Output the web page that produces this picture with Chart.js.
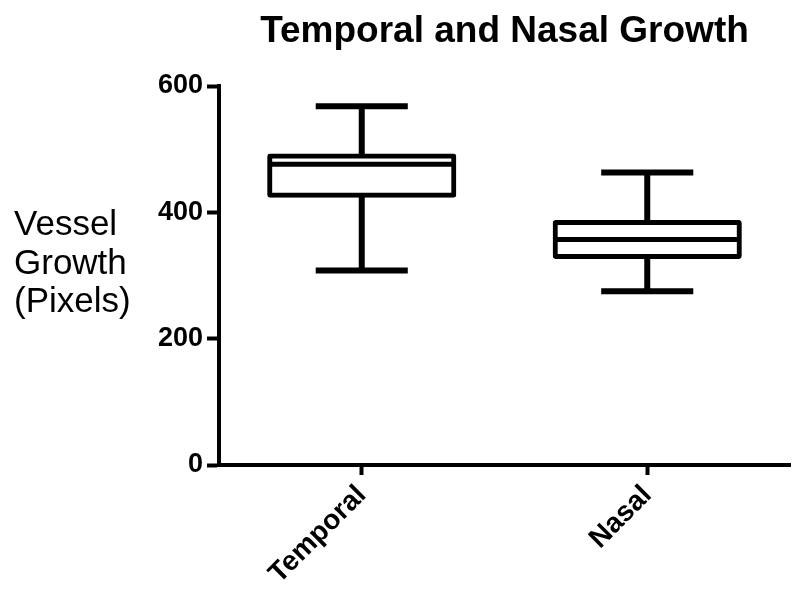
<!DOCTYPE html>
<html>
<head>
<meta charset="utf-8">
<script src="https://cdn.jsdelivr.net/npm/chart.js@4.4.0/dist/chart.umd.min.js"></script>
<style>
    html, body { margin: 0; padding: 0; background: #fff; }
    #wrap { width: 800px; height: 600px; position: relative; }
</style>
</head>
<body>
<div id="wrap"><canvas id="myChart"></canvas></div>
<script>
let groups = ["Temporal", "Nasal"];
let minValues = [308, 275];
let q1Values = [427, 330];
let medianValues = [476, 357];
let q3Values = [489, 384];
let maxValues = [568, 463];
let yTicks = [0, 200, 400, 600];

let chartTitle = "Temporal and Nasal Growth";
let yTitleLines = ["Vessel", "Growth", "(Pixels)"];

const FONT = "'Liberation Sans', Arial, Helvetica, sans-serif";

// whiskers, caps and median lines drawn on top of the floating bars
let boxExtras = {
    id: "boxExtras",
    afterDatasetsDraw(chart) {
        let ctx = chart.ctx;
        let y = chart.scales.y;
        let bars = chart.getDatasetMeta(0).data;
        ctx.save();
        ctx.strokeStyle = "#000";
        bars.forEach((bar, i) => {
            let x = bar.x;
            let half = bar.width / 2;
            let capHalf = half / 2;

            ctx.lineWidth = 6;
            ctx.beginPath();
            ctx.moveTo(x, y.getPixelForValue(q3Values[i]));
            ctx.lineTo(x, y.getPixelForValue(maxValues[i]));
            ctx.moveTo(x, y.getPixelForValue(q1Values[i]));
            ctx.lineTo(x, y.getPixelForValue(minValues[i]));
            ctx.moveTo(x - capHalf, y.getPixelForValue(maxValues[i]));
            ctx.lineTo(x + capHalf, y.getPixelForValue(maxValues[i]));
            ctx.moveTo(x - capHalf, y.getPixelForValue(minValues[i]));
            ctx.lineTo(x + capHalf, y.getPixelForValue(minValues[i]));
            ctx.stroke();

            ctx.lineWidth = 5;
            ctx.beginPath();
            ctx.moveTo(x - half, y.getPixelForValue(medianValues[i]));
            ctx.lineTo(x + half, y.getPixelForValue(medianValues[i]));
            ctx.stroke();
        });
        ctx.restore();
    },
    afterDraw(chart) {
        let ctx = chart.ctx;
        let area = chart.chartArea;
        ctx.save();
        ctx.fillStyle = "#000";
        ctx.textBaseline = "alphabetic";

        ctx.font = "bold 37px " + FONT;
        ctx.textAlign = "center";
        ctx.fillText(chartTitle, (area.left + area.right) / 2, 42);

        ctx.font = "35px " + FONT;
        ctx.textAlign = "left";
        yTitleLines.forEach((line, i) => {
            ctx.fillText(line, 14, 235 + i * 38.5);
        });
        ctx.restore();
    }
};

let config = {
    type: "bar",
    data: {
        labels: groups,
        datasets: [
            {
                label: "Vessel growth",
                data: groups.map((_, i) => [q1Values[i], q3Values[i]]),
                backgroundColor: "#fff",
                borderColor: "#000",
                borderWidth: 5,
                borderSkipped: false,
                borderRadius: 3,
                inflateAmount: 2.5,
                barPercentage: 0.645,
                categoryPercentage: 1
            }
        ]
    },
    options: {
        responsive: false,
        animation: false,
        layout: {
            padding: { top: 86, right: 10, left: 0, bottom: 0 }
        },
        plugins: {
            legend: { display: false },
            title: { display: false },
            tooltip: { enabled: false }
        },
        scales: {
            x: {
                grid: {
                    drawOnChartArea: false,
                    offset: false,
                    tickLength: 10,
                    tickWidth: 4,
                    tickColor: "#000"
                },
                border: { color: "#000", width: 4 },
                ticks: {
                    color: "#000",
                    font: { family: FONT, size: 28, weight: "bold" },
                    minRotation: 45,
                    maxRotation: 45,
                    padding: 4
                },
                afterFit(scale) {
                    scale.height = 135;
                }
            },
            y: {
                min: 0,
                max: 600,
                grid: {
                    drawOnChartArea: false,
                    tickLength: 12,
                    tickWidth: 4,
                    tickColor: "#000"
                },
                border: { color: "#000", width: 4 },
                afterBuildTicks(scale) {
                    scale.ticks = yTicks.map(v => ({ value: v }));
                },
                ticks: {
                    color: "#000",
                    font: { family: FONT, size: 27, weight: "bold" },
                    padding: 4
                },
                afterFit(scale) {
                    scale.width = 219;
                }
            }
        }
    },
    plugins: [boxExtras]
};

let canvas = document.getElementById("myChart");
canvas.width = 800;
canvas.height = 600;
let myChart = new Chart(canvas.getContext("2d"), config);
</script>
</body>
</html>
